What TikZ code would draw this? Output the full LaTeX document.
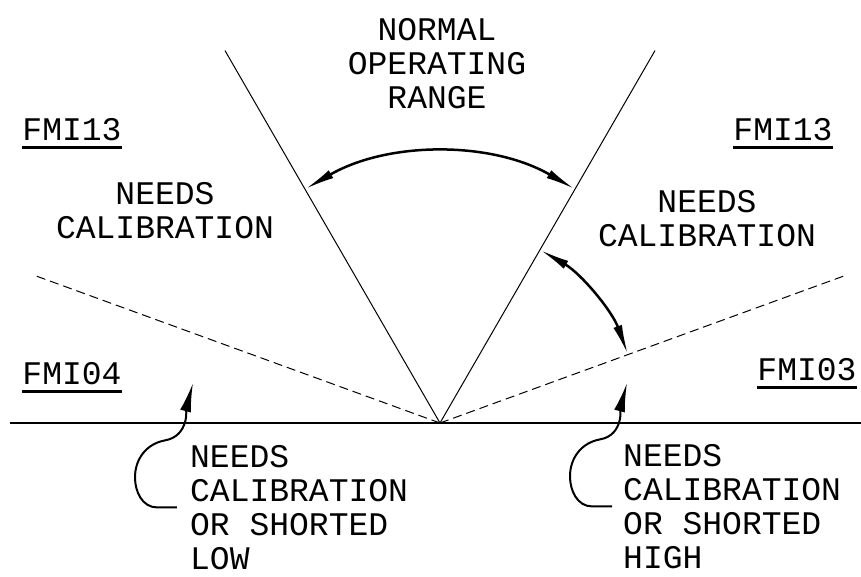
\documentclass[tikz,border=0pt]{standalone}
\usepackage{fontspec}
\setmonofont{Liberation Mono}
\usetikzlibrary{arrows.meta,positioning}

\begin{document}
\begin{tikzpicture}[x=1pt, y=1pt,
    lbl/.style={font=\ttfamily\fontsize{33}{34}\selectfont, inner sep=0pt},
    bigarrow/.style={line width=2.5pt, {Latex[length=30pt,width=9pt]}-{Latex[length=30pt,width=9pt]}},
    curl/.style={line width=2pt, -{Latex[length=29pt,width=11pt]}}]
    \useasboundingbox (-440,-153) rectangle (421,423);

    \coordinate (O) at (0,0);
    \draw[line width=1.5pt] (-430,0) -- (421,0);
    \draw[line width=1pt] (O) -- (120:430) (O) -- (60:430);
    \draw[line width=1pt, dash pattern=on 9pt off 5pt] (O) -- (160:430) (O) -- (20:430);

    % range arcs
    \draw[bigarrow] (120:270) arc[start angle=120, end angle=60, radius=270];
    \draw[bigarrow] (60:200) arc[start angle=60, end angle=20, radius=200];

    \node[lbl, anchor=north, align=center] (normal) at (-3,405) {NORMAL\\OPERATING\\RANGE};
    \node[lbl, anchor=north, align=center] (needsL) at (-275,241) {NEEDS\\CALIBRATION};
    \node[lbl, anchor=north, align=center] (needsR) at (267,233) {NEEDS\\CALIBRATION};
    \node[lbl, anchor=north west, align=left] (lowL) at (-250,-22) {NEEDS\\CALIBRATION\\OR SHORTED\\LOW};
    \node[lbl, anchor=north west, align=left] (highR) at (183,-21) {NEEDS\\CALIBRATION\\OR SHORTED\\HIGH};

    \node[lbl, anchor=north] (fmiA) at (-368,305) {FMI13};
    \node[lbl, anchor=north] (fmiB) at (343,305) {FMI13};
    \node[lbl, anchor=north] (fmiC) at (-368,61) {FMI04};
    \node[lbl, anchor=north] (fmiD) at (367,65) {FMI03};
    \foreach \n in {fmiA,fmiB,fmiC,fmiD}
        \draw[line width=3pt] ([yshift=-7pt]\n.south west) -- ([yshift=-7pt]\n.south east);

    % curly pointers
    \coordinate (tipL) at (-247,40);
    \coordinate (tipR) at (187,40);
    \draw[curl] ([xshift=-13pt]lowL.west) -- ++(-20,0) to[out=180,in=-90] ++(-22,30)
        to[out=90,in=190] ++(30,37) to[out=10,in=-105] (tipL);
    \draw[curl] ([xshift=-11pt]highR.west) -- ++(-20,0) to[out=180,in=-90] ++(-22,30)
        to[out=90,in=190] ++(30,37) to[out=10,in=-105] (tipR);
\end{tikzpicture}
\end{document}
